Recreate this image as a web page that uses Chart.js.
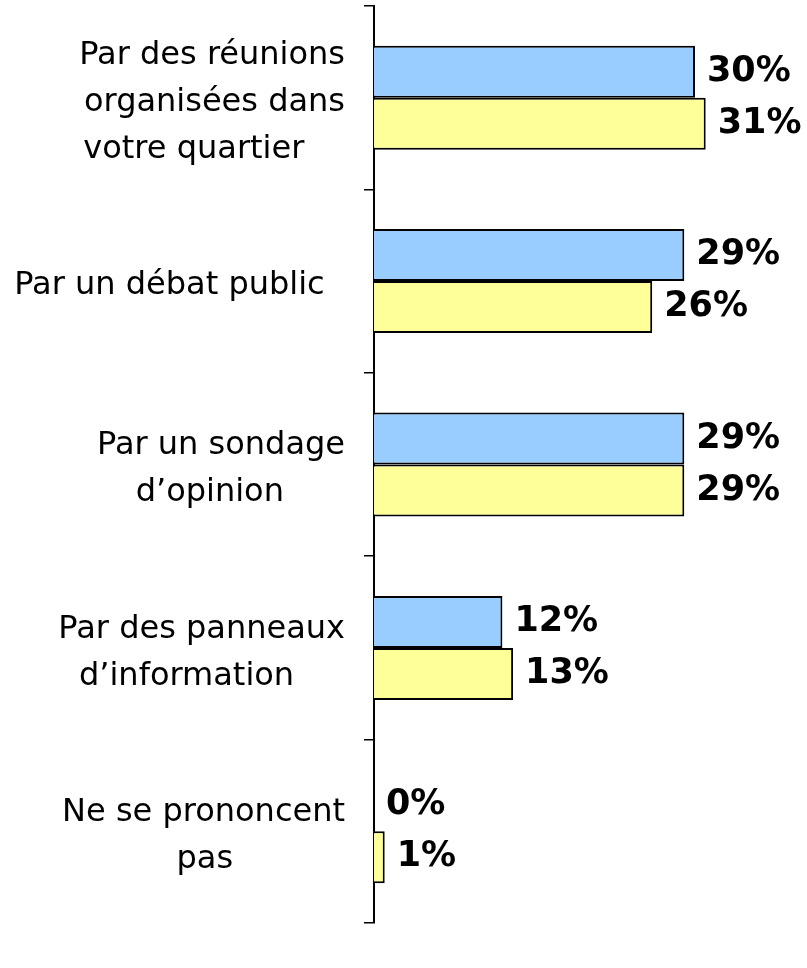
<!DOCTYPE html>
<html>
<head>
<meta charset="utf-8">
<script src="https://cdn.jsdelivr.net/npm/chart.js@4/dist/chart.umd.min.js"></script>
<style>
  html, body { margin: 0; padding: 0; background: #fff; }
  #wrap { width: 807px; height: 968px; position: relative; }
</style>
</head>
<body>
<div id="wrap"><canvas id="c"></canvas></div>
<script>
const NB = '\u00A0';
const categories = [
  ['Par des réunions', 'organisées dans', 'votre quartier' + NB.repeat(4)],
  ['Par un débat public' + NB.repeat(2)],
  ['Par un sondage', 'd\u2019opinion' + NB.repeat(6)],
  ['Par des panneaux', 'd\u2019information' + NB.repeat(5)],
  ['Ne se prononcent', 'pas' + NB.repeat(11)]
];
const seriesBlue = [30, 29, 29, 12, 0];
const seriesYellow = [31, 26, 29, 13, 1];
const xMin = 0;
const xMax = 40;

const valueLabels = {
  id: 'valueLabels',
  afterDatasetsDraw(chart) {
    const ctx = chart.ctx;
    ctx.save();
    ctx.font = 'bold 35px "DejaVu Sans"';
    ctx.fillStyle = '#000';
    ctx.textAlign = 'left';
    ctx.textBaseline = 'middle';
    chart.data.datasets.forEach((ds, di) => {
      const meta = chart.getDatasetMeta(di);
      meta.data.forEach((bar, i) => {
        ctx.fillText(ds.data[i] + '%', bar.x + 12, bar.y);
      });
    });
    ctx.restore();
  }
};

new Chart(document.getElementById('c'), {
  type: 'bar',
  data: {
    labels: categories,
    datasets: [
      { data: seriesBlue, backgroundColor: '#99CCFF', borderColor: '#000', borderWidth: 2,
        categoryPercentage: 0.567, barPercentage: 1.0 },
      { data: seriesYellow, backgroundColor: '#FFFF99', borderColor: '#000', borderWidth: 2,
        categoryPercentage: 0.567, barPercentage: 1.0 }
    ]
  },
  options: {
    indexAxis: 'y',
    responsive: true,
    maintainAspectRatio: false,
    animation: false,
    layout: { padding: { left: 0, right: 5, top: 6, bottom: 45 } },
    plugins: { legend: { display: false }, tooltip: { enabled: false } },
    scales: {
      x: { display: false, min: xMin, max: xMax },
      y: {
        afterFit(scale) { scale.width = 374; scale.paddingTop = 0; scale.paddingBottom = 0; },
        border: { display: true, color: '#000', width: 2 },
        grid: { display: true, drawOnChartArea: false, drawTicks: true, tickLength: 10, color: '#000', lineWidth: 1.5, offset: true },
        ticks: {
          crossAlign: 'near',
          padding: 19,
          labelOffset: 5,
          color: '#000',
          font: { family: '"DejaVu Sans"', size: 32, lineHeight: 1.47 }
        }
      }
    }
  },
  plugins: [valueLabels]
});
</script>
</body>
</html>
